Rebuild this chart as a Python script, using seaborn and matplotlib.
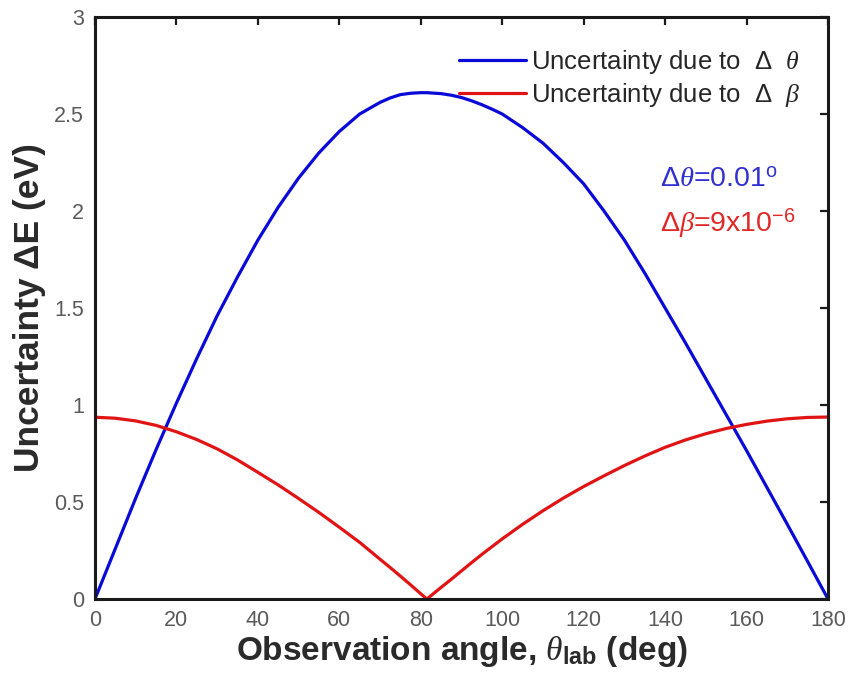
import matplotlib
matplotlib.use("Agg")
import matplotlib.pyplot as plt
import seaborn as sns
import pandas as pd

# Observation angle grid (deg)
angle = [0, 5, 10, 15, 20, 25, 30, 35, 40, 45, 50, 55, 60, 65, 70, 72.5, 75, 77.5,
         80, 81.5, 85, 87.5, 90, 92.5, 95, 97.5, 100, 105, 110, 115, 120, 125, 130,
         135, 140, 145, 150, 155, 160, 165, 170, 175, 180]

# Energy uncertainty from the angular spread (eV)
dE_theta = [0.00, 0.26, 0.52, 0.77, 1.01, 1.24, 1.46, 1.66, 1.85, 2.02, 2.17, 2.30,
            2.41, 2.50, 2.56, 2.583, 2.60, 2.607, 2.61, 2.61, 2.605, 2.597, 2.585,
            2.568, 2.548, 2.525, 2.50, 2.43, 2.35, 2.25, 2.14, 2.00, 1.85, 1.68,
            1.50, 1.32, 1.135, 0.95, 0.765, 0.575, 0.385, 0.193, 0.00]

# Energy uncertainty from the velocity spread (eV)
dE_beta = [0.937, 0.932, 0.918, 0.895, 0.862, 0.822, 0.774, 0.717, 0.653, 0.588,
           0.518, 0.446, 0.370, 0.292, 0.205, 0.162, 0.118, 0.073, 0.027, 0.0,
           0.06, 0.102, 0.145, 0.188, 0.23, 0.27, 0.31, 0.385, 0.455, 0.52, 0.58,
           0.635, 0.688, 0.737, 0.782, 0.82, 0.852, 0.879, 0.90, 0.917, 0.929,
           0.936, 0.938]

series_names = [r"Uncertainty due to  Δ  $\theta$", r"Uncertainty due to  Δ  $\beta$"]
line_colors = ["#0a0ad8", "#e01414"]

x_ticks = [0, 20, 40, 60, 80, 100, 120, 140, 160, 180]
y_ticks = [0, 0.5, 1, 1.5, 2, 2.5, 3]
y_tick_labels = ["0", "0.5", "1", "1.5", "2", "2.5", "3"]

df = pd.concat([
    pd.DataFrame({"angle": angle, "dE": dE_theta, "series": series_names[0]}),
    pd.DataFrame({"angle": angle, "dE": dE_beta, "series": series_names[1]}),
], ignore_index=True)

sns.set_theme(style="white")
plt.rcParams["font.family"] = ["Liberation Sans", "DejaVu Sans"]
plt.rcParams["mathtext.fontset"] = "custom"
plt.rcParams["mathtext.rm"] = "Liberation Sans"
plt.rcParams["mathtext.sf"] = "Liberation Sans"
plt.rcParams["mathtext.it"] = "Liberation Serif:italic"
plt.rcParams["mathtext.bf"] = "Liberation Sans:bold"

fig = plt.figure(figsize=(8.51, 6.89), dpi=100)
ax = fig.add_axes([0.1116, 0.1306, 0.8614, 0.8447])

sns.lineplot(data=df, x="angle", y="dE", hue="series", palette=line_colors,
             estimator=None, linewidth=2.3, ax=ax)

ax.set_xlim(0, 180)
ax.set_ylim(0, 3)
ax.set_xticks(x_ticks)
ax.set_yticks(y_ticks)
ax.set_yticklabels(y_tick_labels)

for lab in ax.get_xticklabels() + ax.get_yticklabels():
    lab.set_fontfamily(["Liberation Sans Narrow", "Liberation Sans"])
    lab.set_fontsize(15.5)
    lab.set_color("#5a5a5a")

ax.tick_params(direction="in", length=6, width=1.6, color="#1a1a1a",
               top=True, right=True, pad=8)
for s in ax.spines.values():
    s.set_linewidth(2.2)
    s.set_color("#1a1a1a")

ax.set_xlabel(r"Observation angle, $\theta_{\mathbf{lab}}$ (deg)", fontsize=24,
              fontweight="bold", color="#2a2a2a", labelpad=2)
ax.set_ylabel("Uncertainty ΔE (eV)", fontsize=25.5, fontweight="bold",
              color="#2a2a2a", labelpad=6)

handles, labels = ax.get_legend_handles_labels()
ax.legend(handles, labels, loc="upper right", bbox_to_anchor=(0.963, 0.946),
          frameon=False, fontsize=18.5, handlelength=2.6, handletextpad=0.2,
          labelspacing=0.16, borderaxespad=0, borderpad=0)
for ln in ax.get_legend().get_lines():
    ln.set_linewidth(2.3)

ax.text(0.771, 0.708, r"Δ$\theta$=0.01$^{\mathrm{o}}$", transform=ax.transAxes,
        fontsize=20.5, color="#3030d0", va="baseline", ha="left")
ax.text(0.771, 0.631, r"Δ$\beta$=9x10$^{\mathrm{-6}}$", transform=ax.transAxes,
        fontsize=20.5, color="#e02828", va="baseline", ha="left")

fig.savefig("out.png", dpi=100)
